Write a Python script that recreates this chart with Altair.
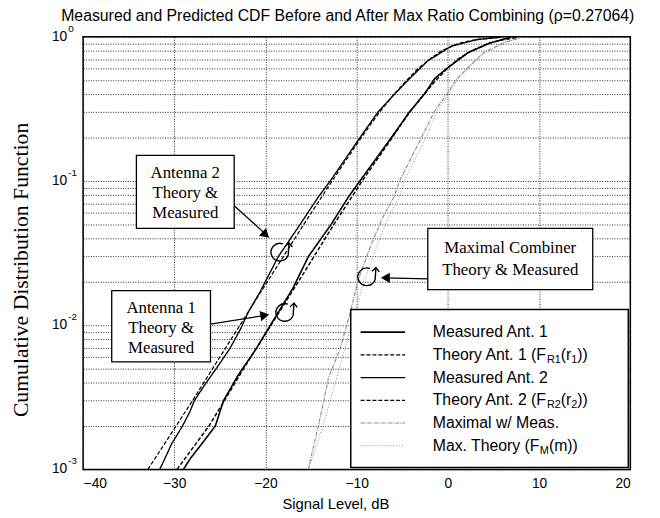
import altair as alt
import pandas as pd

# ---------------- data ----------------
title_text = "Measured and Predicted CDF Before and After Max Ratio Combining (\u03c1=0.27064)"
x_ticks = [-40, -30, -20, -10, 0, 10, 20]
decades = [1, 0.1, 0.01, 0.001]
dec_exp = ["0", "-1", "-2", "-3"]
y_grid = [m * 10.0 ** k for k in (-3, -2, -1) for m in range(1, 10)] + [1.0]

ant1_meas_db = [-29.0, -28.2, -27.0, -25.5, -24.6, -23.0, -21.0, -18.6, -17.0, -15.3, -12.8, -10.9, -9.65, -6.2, -4.2, -2.55, -1.45, -0.2, 2.2, 4.7, 6.9]
ant1_meas_F = [0.001, 0.0012, 0.0015, 0.002, 0.003, 0.0045, 0.0069, 0.0123, 0.018, 0.0299, 0.05, 0.0776, 0.1, 0.2, 0.302, 0.403, 0.513, 0.597, 0.776, 0.91, 0.993]

ant1_theo_db = [-29.7, -26.2, -24.5, -22.4, -19.4, -16.4, -12.5, -9.4, -6.1, -4.2, -2.6, -1.3, -0.1, 1.1, 2.6, 4.4, 5.9, 7.6]
ant1_theo_F = [0.001, 0.002, 0.003, 0.005, 0.01, 0.02, 0.05, 0.1, 0.2, 0.3, 0.4, 0.5, 0.6, 0.7, 0.8, 0.9, 0.95, 0.99]

ant2_meas_db = [-31.6, -31.0, -30.3, -29.1, -28.3, -27.8, -26.5, -25.4, -23.9, -22.7, -21.9, -20.6, -18.6, -16.2, -14.2, -12.9, -9.65, -7.65, -5.8, -4.2, -2.2, 0.4, 3.3, 5.8]
ant2_meas_F = [0.001, 0.0012, 0.0015, 0.002, 0.0025, 0.003, 0.004, 0.005, 0.0069, 0.0095, 0.0123, 0.017, 0.0299, 0.05, 0.0776, 0.1, 0.1995, 0.302, 0.403, 0.513, 0.681, 0.863, 0.959, 0.993]

ant2_theo_db = [-32.9, -29.8, -28.0, -25.8, -22.8, -19.8, -15.8, -12.7, -9.5, -7.5, -5.9, -4.5, -3.3, -2.0, -0.7, 1.2, 2.8, 5.5]
ant2_theo_F = [0.001, 0.002, 0.003, 0.005, 0.01, 0.02, 0.05, 0.1, 0.2, 0.3, 0.4, 0.5, 0.6, 0.7, 0.8, 0.9, 0.95, 0.99]

max_meas_db = [-15.3, -14.9, -14.2, -13.6, -13.1, -11.8, -10.7, -9.8, -8.5, -7.2, -5.9, -5.3, -2.9, -1.5, -0.1, 1.0, 2.4, 3.9, 6.1, 8.0]
max_meas_F = [0.001, 0.0013, 0.002, 0.003, 0.0043, 0.0069, 0.0123, 0.021, 0.035, 0.055, 0.0776, 0.1, 0.2, 0.302, 0.403, 0.513, 0.63, 0.776, 0.91, 0.99]

max_theo_db = [-15.3, -13.7, -12.2, -11.3, -10.2, -9.1, -7.8, -6.6, -5.3, -4.8, -2.4, -1.2, 0.1, 1.2, 2.6, 4.1, 6.3, 8.2]
max_theo_F = [0.001, 0.002, 0.0043, 0.0069, 0.0123, 0.021, 0.035, 0.055, 0.0776, 0.1, 0.2, 0.302, 0.403, 0.513, 0.63, 0.776, 0.91, 0.99]

series_names = ["Measured Ant. 1", "Theory Ant. 1", "Measured Ant. 2", "Theory Ant. 2", "Maximal w/ Meas.", "Max. Theory"]
series_data = [
    (ant1_meas_db, ant1_meas_F),
    (ant1_theo_db, ant1_theo_F),
    (ant2_meas_db, ant2_meas_F),
    (ant2_theo_db, ant2_theo_F),
    (max_meas_db, max_meas_F),
    (max_theo_db, max_theo_F),
]

# ---------------- styles / layout ----------------
W, H = 554, 438
SANS = "Liberation Sans"
SERIF = "Liberation Serif"
colors = ["#000000", "#000000", "#000000", "#000000", "#8a8a8a", "#8a8a8a"]
dashes = [[1, 0], [4, 2], [1, 0], [4, 2], [4, 1, 1, 1], [1, 2]]
widths = [1.6, 1.0, 1.6, 1.0, 1.0, 1.0]

rows = []
for name, (xs, fs) in zip(series_names, series_data):
    for i, (x, f) in enumerate(zip(xs, fs)):
        rows.append({"series": name, "dB": x, "F": f, "i": i})
df = pd.DataFrame(rows)

xscale = alt.Scale(domain=[-40, 20], nice=False)
yscale = alt.Scale(type="log", domain=[0.001, 1], nice=False)
col_s = alt.Scale(domain=series_names, range=colors)
dash_s = alt.Scale(domain=series_names, range=dashes)
wid_s = alt.Scale(domain=series_names, range=widths)

base_x = alt.X("dB:Q", scale=xscale,
               axis=alt.Axis(values=x_ticks, title=None, grid=True, gridDash=[1, 1.5], gridColor="#000",
                             gridOpacity=0.85, ticks=False, domain=False, labelFont=SANS, labelFontSize=14,
                             labelColor="#000", labelPadding=7, format="d"))
base_y = alt.Y("F:Q", scale=yscale,
               axis=alt.Axis(values=y_grid, title=None, grid=True, gridDash=[1, 1.5], gridColor="#000",
                             gridOpacity=0.85, ticks=False, domain=False, labels=False))

lines = alt.Chart(df).mark_line(clip=True).encode(
    x=base_x, y=base_y,
    color=alt.Color("series:N", scale=col_s, legend=None),
    strokeDash=alt.StrokeDash("series:N", scale=dash_s, legend=None),
    strokeWidth=alt.StrokeWidth("series:N", scale=wid_s, legend=None),
    detail="series:N",
    order="i:Q",
)

# y-axis labels 10^k
ylab_df = pd.DataFrame({"F": decades, "e": dec_exp})
ylab_ten = alt.Chart(ylab_df).mark_text(align="right", baseline="middle", font=SANS, fontSize=14, color="#000").encode(
    x=alt.value(-16), y=alt.Y("F:Q", scale=yscale), text=alt.value("10"))
ylab_exp = alt.Chart(ylab_df).mark_text(align="left", baseline="middle", font=SANS, fontSize=10, color="#000", dy=-8).encode(
    x=alt.value(-15), y=alt.Y("F:Q", scale=yscale), text="e:N")

# titles
dummy = pd.DataFrame({"a": [0]})
def txt(s, x, y, **kw):
    return alt.Chart(dummy).mark_text(**kw).encode(x=alt.value(x), y=alt.value(y), text=alt.value(s))

title = txt(title_text, 268, -21, font=SANS, fontSize=16, color="#000", align="center", baseline="middle")
xtitle = txt("Signal Level, dB", 256, 473, font=SANS, fontSize=15, color="#000", align="center", baseline="middle")
ytitle = txt("Cumulative Distribution Function", -63, 236, font=SERIF, fontSize=22, color="#000",
             align="center", baseline="middle", angle=270)

# ---------------- annotation boxes ----------------
def box(x1, y1, x2, y2, sw=1.3):
    return alt.Chart(dummy).mark_rect(fill="white", stroke="black", strokeWidth=sw).encode(
        x=alt.value(x1), x2=alt.value(x2), y=alt.value(y1), y2=alt.value(y2))

def seg(x1, y1, x2, y2, sw=1.3):
    return alt.Chart(dummy).mark_rule(color="black", strokeWidth=sw).encode(
        x=alt.value(x1), x2=alt.value(x2), y=alt.value(y1), y2=alt.value(y2))

def head(x, y, ang, shape="triangle-right"):
    return alt.Chart(dummy).mark_point(shape=shape, filled=True, color="black", size=110, opacity=1, angle=ang).encode(
        x=alt.value(x), y=alt.value(y))

loop_path = "M0.3,-0.75 A0.8,0.8 0 1,0 0.78,0.25 L0.85,-0.85 M0.5,-0.5 L0.85,-0.85 L1.15,-0.45"
def loop(x, y):
    return alt.Chart(dummy).mark_point(shape=loop_path, filled=False, color="black", size=500, strokeWidth=1.4,
                                       opacity=1).encode(x=alt.value(x), y=alt.value(y))

ann_font = dict(font=SERIF, fontSize=17, color="#000", align="center", baseline="middle")
annots = [
    box(54, 120, 153, 194),
    txt("Antenna 2", 103.5, 138, **ann_font), txt("Theory &", 103.5, 158, **ann_font), txt("Measured", 103.5, 178, **ann_font),
    seg(153, 171, 185, 200), head(185, 200.5, 42),
    loop(199, 218),
    box(29, 257, 129, 329),
    txt("Antenna 1", 79, 275, **ann_font), txt("Theory &", 79, 295, **ann_font), txt("Measured", 79, 315, **ann_font),
    seg(129, 291, 184, 282), head(184, 282, 350.5),
    loop(204, 279),
    box(349, 194, 516, 256),
    txt("Maximal Combiner", 432.5, 214, **ann_font), txt("Theory & Measured", 432.5, 236, **ann_font),
    seg(349, 245, 306, 244), head(306, 244, 0, "triangle-left"),
    loop(287, 243),
]

# ---------------- legend ----------------
AW = {' ': 278, '(': 333, ')': 333, '.': 278, '/': 278, '0': 556, '1': 556, '2': 556, 'A': 667, 'F': 611,
      'M': 833, 'R': 722, 'T': 611, 'a': 556, 'd': 556, 'e': 556, 'h': 556, 'i': 222, 'l': 222, 'm': 833,
      'n': 556, 'o': 556, 'r': 333, 's': 500, 't': 278, 'u': 556, 'w': 722, 'x': 500, 'y': 500}
def tw(s, size):
    return sum(AW.get(c, 556) for c in s) * size / 1000.0

LEG_FS, SUB_FS = 16, 11
leg_pieces = [
    [("Measured Ant. 1", 0)],
    [("Theory Ant. 1 (F", 0), ("R1", 1), ("(r", 0), ("1", 1), ("))", 0)],
    [("Measured Ant. 2", 0)],
    [("Theory Ant. 2 (F", 0), ("R2", 1), ("(r", 0), ("2", 1), ("))", 0)],
    [("Maximal w/ Meas.", 0)],
    [("Max. Theory (F", 0), ("M", 1), ("(m))", 0)],
]
leg_top, leg_step = 299, 23
legend_layers = [box(271, 276, 552, 436, sw=1.5)]
leg_rows = pd.DataFrame({"series": series_names, "ly": [leg_top + leg_step * k for k in range(len(series_names))]})
legend_layers.append(alt.Chart(leg_rows).mark_rule().encode(
    x=alt.value(281), x2=alt.value(326), y=alt.Y("ly:Q", scale=None),
    color=alt.Color("series:N", scale=col_s, legend=None),
    strokeDash=alt.StrokeDash("series:N", scale=dash_s, legend=None),
    strokeWidth=alt.StrokeWidth("series:N", scale=wid_s, legend=None)))
for k, pieces in enumerate(leg_pieces):
    xx = 354
    yy = leg_top + leg_step * k
    for s, sub in pieces:
        fs = SUB_FS if sub else LEG_FS
        legend_layers.append(txt(s, xx, yy + (5 if sub else 0), font=SANS, fontSize=fs, color="#000",
                                 align="left", baseline="middle"))
        xx += tw(s, fs)

chart = alt.layer(lines, ylab_ten, ylab_exp, title, xtitle, ytitle, *annots, *legend_layers).properties(
    width=W, height=H,
    autosize=alt.AutoSizeParams(type="none"),
    padding={"left": 76, "top": 26, "right": 22, "bottom": 46},
    background="white",
).configure_view(stroke="black", strokeWidth=1.5)

chart.save("out.html", embed_options={"renderer": "svg", "actions": False})
